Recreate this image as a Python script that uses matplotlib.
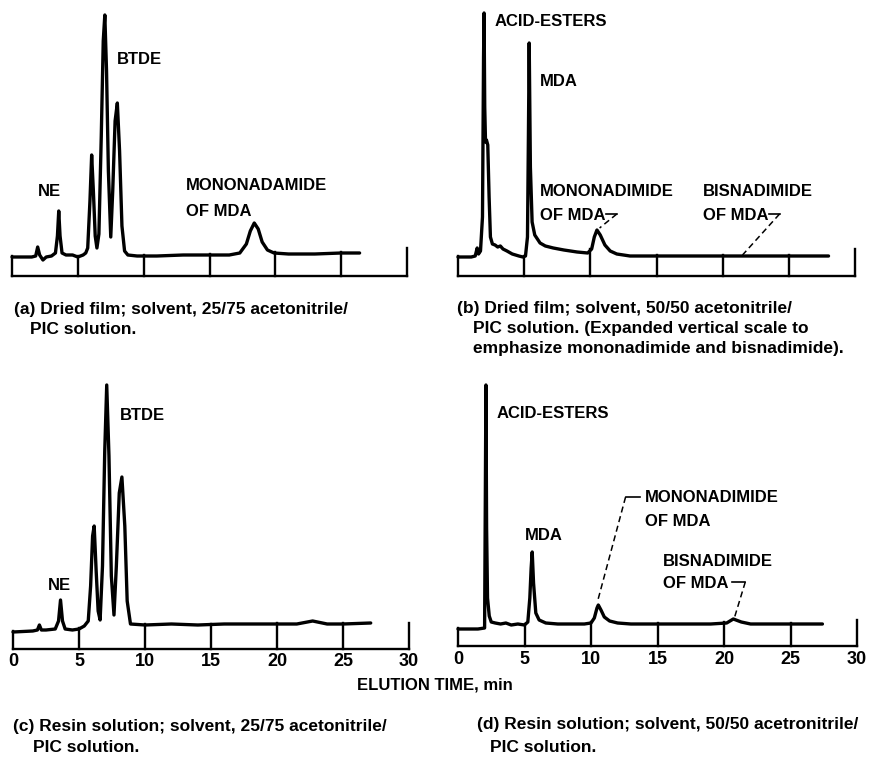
import numpy as np
import matplotlib

matplotlib.use("Agg")
import matplotlib.pyplot as plt

plt.rcParams["font.family"] = ["Liberation Sans", "DejaVu Sans"]
plt.rcParams["font.weight"] = "bold"

W, H = 877, 759

# detector traces: elution time (min) and pen height above baseline
t_a = [0, 1.5, 1.8, 1.95, 2.1, 2.35, 2.6, 3.0, 3.3, 3.45, 3.55, 3.65, 3.8, 4.1,
       4.6, 5.0, 5.4, 5.6, 5.75, 5.92, 6.05, 6.18, 6.32, 6.45, 6.6, 6.78, 6.93,
       7.05, 7.18, 7.32, 7.5, 7.65, 7.83, 8.0, 8.17, 8.35, 8.55, 8.8, 9.5, 11,
       13, 15, 16.5, 17.3, 17.8, 18.1, 18.4, 18.7, 19.0, 19.4, 19.9, 21, 23, 25,
       26.4]
y_a = [-1, -1, 0, 9, 1, -4, -1, 0, 3, 20, 45, 20, 3, 1,
       1, -1, 1, 3, 8, 55, 101, 65, 20, 8, 22, 120, 215,
       241, 185, 85, 19, 65, 135, 153, 105, 30, 5, 1, 0, 0,
       1, 1, 1, 3, 12, 25, 33, 27, 14, 6, 3, 2, 2, 3,
       3]

t_b = [0, 1.0, 1.3, 1.45, 1.55, 1.7, 1.85, 1.93, 1.97, 2.02, 2.08, 2.15, 2.25,
       2.35, 2.45, 2.6, 2.8, 3.0, 3.2, 3.4, 3.7, 4.1, 4.6, 4.9, 5.1, 5.25, 5.32,
       5.38, 5.47, 5.6, 5.8, 6.2, 6.6, 7.2, 8.0, 9.0, 9.8, 10.1, 10.3, 10.5,
       10.75, 11.1, 11.5, 12.0, 13, 15, 18, 21, 24, 26, 28]
y_b = [0, 0, 1, 9, 3, 6, 40, 200, 244, 150, 115, 117, 112,
       60, 20, 13, 12, 10, 11, 8, 6, 3, 1, 0, 1, 20, 120,
       214, 90, 35, 22, 14, 11, 9, 7, 5, 4, 8, 20, 27,
       22, 12, 6, 3, 1, 1, 1, 1, 1, 1, 1]

t_c = [0, 1.5, 1.85, 2.0, 2.15, 2.5, 3.2, 3.45, 3.6, 3.75, 3.95, 4.5, 5.0, 5.4,
       5.7, 5.88, 6.03, 6.15, 6.3, 6.45, 6.6, 6.78, 6.95, 7.1, 7.27, 7.45, 7.65,
       7.83, 8.05, 8.25, 8.47, 8.65, 8.9, 10, 12, 14, 16, 18, 20, 21.5, 22.7,
       23.8, 25, 27.1]
y_c = [-1, 0, 1, 6, 1, 1, 2, 10, 31, 10, 2, 1, 2, 5,
       10, 45, 95, 105, 60, 20, 11, 65, 180, 246, 175, 55, 16,
       65, 138, 154, 105, 30, 7, 6, 7, 6, 7, 7, 7, 7, 10,
       7, 7, 8]

t_d = [0, 1.5, 2.0, 2.05, 2.1, 2.15, 2.22, 2.35, 2.5, 2.8, 3.2, 3.6, 4.0, 4.5,
       5.0, 5.25, 5.4, 5.5, 5.58, 5.68, 5.85, 6.1, 6.6, 7.5, 8.5, 9.5, 10.0,
       10.25, 10.45, 10.55, 10.75, 11.0, 11.4, 12.0, 13, 15, 17, 19, 20.2, 20.7,
       21.3, 22, 24, 26, 27.4]
y_d = [-1, -1, 0, 120, 243, 100, 30, 12, 6, 5, 4, 5, 3, 4,
       3, 6, 30, 60, 76, 45, 15, 8, 5, 4, 4, 4, 5,
       10, 20, 23, 18, 11, 7, 5, 4, 4, 4, 4, 5, 9,
       6, 4, 4, 4, 4]

ticks = [0, 5, 10, 15, 20, 25, 30]
tick_labels = ["0", "5", "10", "15", "20", "25", "30"]

captions = {
    "a": ["(a) Dried film; solvent, 25/75 acetonitrile/", "PIC solution."],
    "b": ["(b) Dried film; solvent, 50/50 acetonitrile/",
          "PIC solution. (Expanded vertical scale to",
          "emphasize mononadimide and bisnadimide)."],
    "c": ["(c) Resin solution; solvent, 25/75 acetonitrile/", "PIC solution."],
    "d": ["(d) Resin solution; solvent, 50/50 acetronitrile/", "PIC solution."],
}

LW = 2.4
FS = 12


def panel(fig, x0, x30, base, bottom, top, t, y):
    """Axes in which x is minutes and y is pen height in pixels."""
    ax = fig.add_axes([x0 / W, 1 - bottom / H, (x30 - x0) / W, (bottom - top) / H])
    ax.set_xlim(0, 30)
    ax.set_ylim(base - bottom, base - top)
    ax.axis("off")
    ax.plot(t, y, color="black", lw=LW, solid_joinstyle="round",
            solid_capstyle="round", clip_on=False)
    floor = base - bottom
    ax.plot([0, 30], [floor, floor], color="black", lw=1.7, clip_on=False)
    for tk in ticks:
        top_y = 8 if tk > t[-1] else np.interp(tk, t, y) + 1
        ax.plot([tk, tk], [floor, top_y], color="black", lw=1.7, clip_on=False)
    return ax


def leader(ax, hook, pts):
    ax.plot(hook[0], hook[1], color="black", lw=1.2, clip_on=False)
    ax.plot(pts[0], pts[1], color="black", lw=1.1, ls=(0, (4, 2.5)),
            clip_on=False)


fig = plt.figure(figsize=(W / 100, H / 100), dpi=100)

# (a)
ax = panel(fig, 12, 407, 256, 276, 0, t_a, y_a)
ax.text(1.97, 64, "NE", fontsize=FS, va="center")
ax.text(7.97, 196, "BTDE", fontsize=FS, va="center")
ax.text(13.2, 70, "MONONADAMIDE", fontsize=FS, va="center")
ax.text(13.2, 45, "OF MDA", fontsize=FS, va="center")

# (b)
ax = panel(fig, 458, 855, 257, 276, 0, t_b, y_b)
ax.text(2.8, 235, "ACID-ESTERS", fontsize=FS, va="center")
ax.text(6.2, 176, "MDA", fontsize=FS, va="center")
ax.text(6.2, 65, "MONONADIMIDE", fontsize=FS, va="center")
ax.text(6.2, 42, "OF MDA", fontsize=FS, va="center")
ax.text(18.5, 65, "BISNADIMIDE", fontsize=FS, va="center")
ax.text(18.5, 42, "OF MDA", fontsize=FS, va="center")
leader(ax, ([11.2, 12.0], [43, 43]), ([12.0, 10.7], [43, 29]))
leader(ax, ([23.5, 24.3], [43, 43]), ([24.3, 21.5], [43, 2]))

# (c)
ax = panel(fig, 13, 409, 631, 649, 370, t_c, y_c)
ax.text(2.65, 46, "NE", fontsize=FS, va="center")
ax.text(8.1, 216, "BTDE", fontsize=FS, va="center")
for tk, lab in zip(ticks, tick_labels):
    ax.text(tk, -31, lab, fontsize=13, ha="center", va="center")

# (d)
ax = panel(fig, 458, 857, 628, 646, 370, t_d, y_d)
ax.text(2.93, 215, "ACID-ESTERS", fontsize=FS, va="center")
ax.text(5.04, 93, "MDA", fontsize=FS, va="center")
ax.text(14.06, 130, "MONONADIMIDE", fontsize=FS, va="center")
ax.text(14.06, 106, "OF MDA", fontsize=FS, va="center")
ax.text(15.4, 66, "BISNADIMIDE", fontsize=FS, va="center")
ax.text(15.4, 45, "OF MDA", fontsize=FS, va="center")
leader(ax, ([13.7, 12.6], [131, 131]), ([12.6, 10.5], [131, 27]))
leader(ax, ([20.6, 21.6], [46, 46]), ([21.6, 20.8], [46, 11]))
for tk, lab in zip(ticks, tick_labels):
    ax.text(tk, -32, lab, fontsize=13, ha="center", va="center")

fig.text(435 / W, 1 - 685 / H, "ELUTION TIME, min", fontsize=FS,
         ha="center", va="center")

# captions under each panel
for key, (x1, x2, ys) in {"a": (14, 30, [310, 330]),
                          "b": (457, 473, [308, 328, 348]),
                          "c": (13, 33, [727, 748]),
                          "d": (477, 490, [725, 748])}.items():
    for i, line in enumerate(captions[key]):
        fig.text((x1 if i == 0 else x2) / W, 1 - ys[i] / H, line,
                 fontsize=12.5, ha="left", va="center")

fig.savefig("out.png", dpi=100, facecolor="white")
